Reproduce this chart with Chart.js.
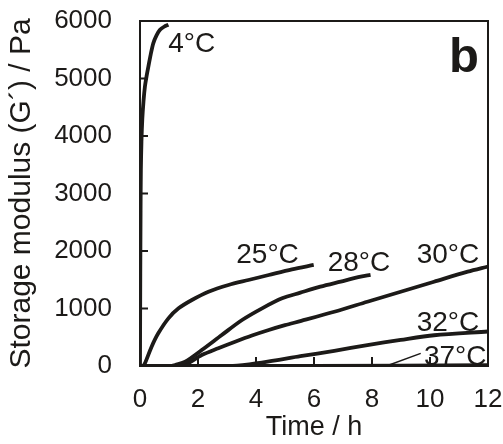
<!DOCTYPE html>
<html>
<head>
<meta charset="UTF-8">
<script src="https://cdn.jsdelivr.net/npm/chart.js"></script>
<style>
  body { margin: 0; background: #fff; }
  #box { width: 503px; height: 444px; }
</style>
</head>
<body>
<div id="box"><canvas id="grafico"></canvas></div>
<script>
// dados (tempo em h, G' em Pa)
const t4  = [0, 0.01, 0.02, 0.03, 0.05, 0.08, 0.12, 0.17, 0.23, 0.29, 0.37, 0.46, 0.57, 0.69, 0.83, 0.98];
const g4  = [0, 1600, 2700, 3400, 3900, 4300, 4600, 4860, 5050, 5210, 5420, 5615, 5750, 5846, 5900, 5935];
const t25 = [0, 0.1, 0.17, 0.4, 0.63, 0.98, 1.33, 1.79, 2.36, 3.05, 3.74, 4.44, 5.24, 5.99];
const g25 = [0, 0, 47, 336, 568, 829, 1003, 1148, 1292, 1409, 1496, 1583, 1681, 1757];
const t28 = [0, 1.1, 1.21, 1.56, 2.13, 2.82, 3.52, 4.21, 4.9, 5.53, 6.22, 6.92, 7.61, 7.95];
const g28 = [0, 0, 17, 75, 278, 539, 800, 1003, 1177, 1275, 1379, 1467, 1553, 1583];
const t30 = [0, 1.45, 1.7, 2.13, 2.7, 3.28, 3.86, 4.44, 5.0, 5.56, 6.7, 7.84, 8.99, 10.14, 11.3, 12.0];
const g30 = [0, 0, 60, 191, 310, 423, 530, 626, 710, 785, 944, 1118, 1292, 1466, 1640, 1730];
const t32 = [0, 3.2, 4.2, 5.53, 6.7, 7.84, 8.99, 10.14, 12.0];
const g32 = [0, 0, 60, 170, 265, 365, 455, 535, 600];
const t37 = [0, 6, 12];
const g37 = [0, 0, 15];

const xTicks = [0, 2, 4, 6, 8, 10, 12];
const yTicks = [0, 1000, 2000, 3000, 4000, 5000, 6000];

// rotulos das curvas (posicao em unidades de dados)
const rotulos = ['4°C', '25°C', '28°C', '30°C', '32°C', '37°C'];
const rotT = [0.97, 3.32, 6.47, 9.54, 9.54, 9.79];
const rotG = [5460, 1791, 1652, 1791, 609, 17];
const linhaT = [8.59, 9.68];
const linhaG = [17, 220];

const cor = '#1c1a18';
const fonte = "'Liberation Sans', Arial, sans-serif";

function pts(t, g) { return t.map((v, i) => ({ x: v, y: g[i] })); }
function serie(t, g) {
    return { data: pts(t, g), borderColor: cor, borderWidth: 3.8, pointRadius: 0, tension: 0.3, fill: false };
}

const extras = {
    id: 'extras',
    afterDraw(chart) {
        const c = chart.ctx, a = chart.chartArea;
        const sx = chart.scales.x, sy = chart.scales.y;
        c.save();
        c.strokeStyle = cor;
        c.lineWidth = 2;
        // moldura
        c.strokeRect(a.left, a.top, a.right - a.left, a.bottom - a.top);
        // ticks para dentro
        xTicks.forEach(v => {
            const px = sx.getPixelForValue(v);
            c.beginPath(); c.moveTo(px, a.bottom); c.lineTo(px, a.bottom - 9); c.stroke();
        });
        yTicks.forEach(v => {
            const py = sy.getPixelForValue(v);
            c.beginPath(); c.moveTo(a.left, py); c.lineTo(a.left + 8, py); c.stroke();
        });
        // linha guia do 37°C
        c.lineWidth = 1.5;
        c.beginPath();
        c.moveTo(sx.getPixelForValue(linhaT[0]), sy.getPixelForValue(linhaG[0]));
        c.lineTo(sx.getPixelForValue(linhaT[1]), sy.getPixelForValue(linhaG[1]));
        c.stroke();
        // rotulos
        c.fillStyle = cor;
        c.font = '28px ' + fonte;
        c.textAlign = 'left';
        c.textBaseline = 'alphabetic';
        rotulos.forEach((r, i) => {
            c.fillText(r, sx.getPixelForValue(rotT[i]), sy.getPixelForValue(rotG[i]));
        });
        c.font = 'bold 49px ' + fonte;
        c.textAlign = 'right';
        c.fillText('b', a.right - 9, a.top + 51);
        c.restore();
    }
};

new Chart(document.getElementById('grafico'), {
    type: 'line',
    data: {
        datasets: [serie(t4, g4), serie(t25, g25), serie(t28, g28), serie(t30, g30), serie(t32, g32), serie(t37, g37)]
    },
    options: {
        responsive: true,
        maintainAspectRatio: false,
        animation: false,
        layout: { padding: { top: 21, right: 15, left: 0, bottom: 0 } },
        plugins: { legend: { display: false }, tooltip: { enabled: false } },
        scales: {
            x: {
                type: 'linear', min: 0, max: 12,
                afterFit(s) { s.height = 78; s.paddingLeft = 0; s.paddingRight = 0; },
                grid: { display: false, drawTicks: false },
                border: { display: true, color: cor, width: 2 },
                ticks: { stepSize: 2, padding: 18, color: cor, font: { size: 26, family: fonte } },
                title: { display: true, text: 'Time / h', color: cor, padding: 0, font: { size: 27, family: fonte } }
            },
            y: {
                type: 'linear', min: 0, max: 6000,
                afterFit(s) { s.width = 140; s.paddingTop = 0; s.paddingBottom = 0; },
                grid: { display: false, drawTicks: false },
                border: { display: true, color: cor, width: 2 },
                ticks: { stepSize: 1000, padding: 28, color: cor, font: { size: 26, family: fonte },
                         callback: v => String(v) },
                title: { display: true, text: 'Storage modulus (G´) / Pa', color: cor, padding: { top: 4, bottom: 0 }, font: { size: 30, family: fonte } }
            }
        }
    },
    plugins: [extras]
});
</script>
</body>
</html>
